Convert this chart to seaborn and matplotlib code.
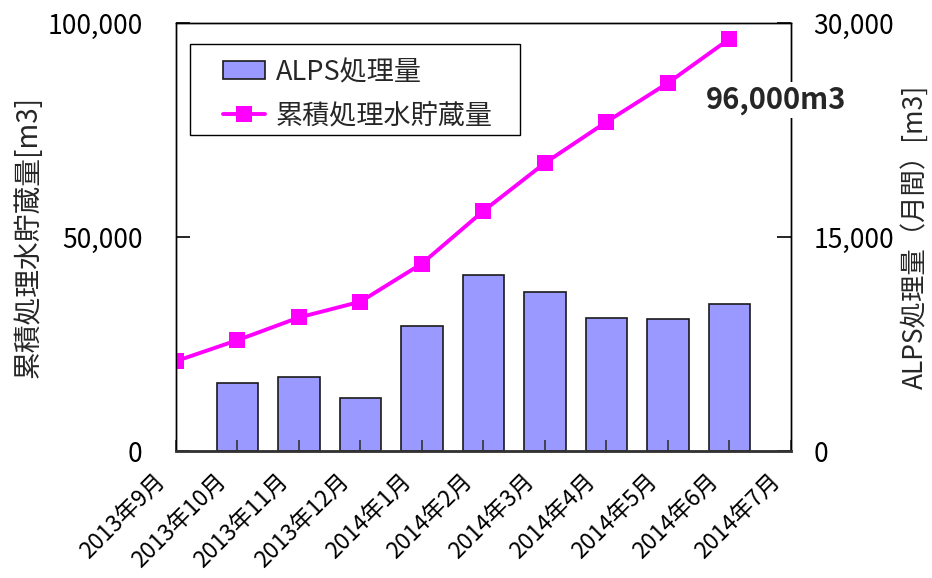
import matplotlib
matplotlib.use('Agg')
import matplotlib.pyplot as plt
import matplotlib.transforms as mtransforms
from matplotlib.patches import Rectangle
from matplotlib.ticker import FuncFormatter, FixedLocator
import seaborn as sns

# ---------------- data ----------------
months = ['2013年9月', '2013年10月', '2013年11月', '2013年12月', '2014年1月',
          '2014年2月', '2014年3月', '2014年4月', '2014年5月', '2014年6月', '2014年7月']
bar_months = ['2013年10月', '2013年11月', '2013年12月', '2014年1月', '2014年2月',
              '2014年3月', '2014年4月', '2014年5月', '2014年6月']
alps_monthly = [4790, 5160, 3690, 8760, 12360, 11160, 9320, 9250, 10300]
line_months = ['2013年9月', '2013年10月', '2013年11月', '2013年12月', '2014年1月',
               '2014年2月', '2014年3月', '2014年4月', '2014年5月', '2014年6月']
cumulative = [21000, 25900, 31200, 34900, 43800, 56100, 67300, 76900, 86000, 96300]
left_ticks = [0, 50000, 100000]
right_ticks = [0, 15000, 30000]
bar_label = 'ALPS処理量'
line_label = '累積処理水貯蔵量'
left_title = '累積処理水貯蔵量[m3]'
right_title = 'ALPS処理量（月間）[m3]'
annotation = '96,000m3'

# ---------------- style ----------------
sns.set_style('ticks')
plt.rcParams['font.family'] = ['Noto Sans CJK JP', 'DejaVu Sans']
plt.rcParams['axes.unicode_minus'] = False

FS = 19
fig = plt.figure(figsize=(9.32, 5.78), dpi=100)
ax = fig.add_axes([0.1888, 0.2197, 0.6599, 0.7405])
ax2 = ax.twinx()

bar_pos = [months.index(m) for m in bar_months]
line_pos = [months.index(m) for m in line_months]

sns.barplot(x=bar_pos, y=alps_monthly, native_scale=True, width=0.68,
            color='#9999FF', saturation=1, edgecolor='#1a1a1a', linewidth=1.2,
            errorbar=None, ax=ax2)
sns.lineplot(x=line_pos, y=cumulative, ax=ax, color='#FF00FF', linewidth=2.8,
             marker='s', markersize=11, markeredgewidth=0)

ax.set_zorder(ax2.get_zorder() + 1)
ax.patch.set_visible(False)

ax.set_xlim(0, len(months) - 1)
ax.set_ylim(left_ticks[0], left_ticks[-1])
ax2.set_ylim(right_ticks[0], right_ticks[-1])

fmt = FuncFormatter(lambda v, p: f'{int(v):,}')
ax.yaxis.set_major_locator(FixedLocator(left_ticks))
ax.yaxis.set_major_formatter(fmt)
ax2.yaxis.set_major_locator(FixedLocator(right_ticks))
ax2.yaxis.set_major_formatter(fmt)
ax.xaxis.set_major_locator(FixedLocator(list(range(len(months)))))
ax.set_xticklabels(months)

for a in (ax, ax2):
    for s in a.spines.values():
        s.set_color('black')
        s.set_linewidth(1.0)
ax.spines['bottom'].set_color('#333333')
ax.spines['bottom'].set_linewidth(2.0)

ax.tick_params(axis='y', direction='in', length=10, width=1.2, labelsize=FS, pad=24, colors='black')
ax2.tick_params(axis='y', direction='in', length=10, width=1.2, labelsize=FS, pad=16, colors='black')
ax.tick_params(axis='x', direction='in', length=8, width=1.2, labelsize=16.5, pad=19, colors='#333333')
for lbl in ax.get_xticklabels():
    lbl.set_rotation(45)
    lbl.set_ha('right')
    lbl.set_va('center')
    lbl.set_rotation_mode('anchor')
    lbl.set_color('black')
    lbl.set_transform(lbl.get_transform() + mtransforms.ScaledTranslation(-0.15, 0, fig.dpi_scale_trans))

ax.set_xlabel('')
ax2.set_xlabel('')
ax.set_ylabel(left_title, fontsize=20, labelpad=3)
ax2.set_ylabel(right_title, fontsize=FS, labelpad=5)

# legend frame + legend
ax.add_patch(Rectangle((0.0228, 0.738), 0.5366, 0.2126, transform=ax.transAxes,
                       facecolor='white', edgecolor='black', linewidth=1.0, zorder=6))
handles = [ax2.patches[0], ax.lines[0]]
leg = ax.legend(handles, [bar_label, line_label], loc='upper left',
                bbox_to_anchor=(0.0764, 0.916), frameon=False, fontsize=19.5,
                borderpad=0, borderaxespad=0, handlelength=1.55, handleheight=0.65,
                handletextpad=0.4, labelspacing=0.62)
leg.set_zorder(7)

ax.text(0.976, 0.820, annotation, transform=ax.transAxes, ha='center', va='center',
        fontsize=21, fontweight='bold', clip_on=False, zorder=8,
        bbox=dict(facecolor='white', edgecolor='none', pad=2))

fig.savefig('out.png', dpi=100, facecolor='white')
